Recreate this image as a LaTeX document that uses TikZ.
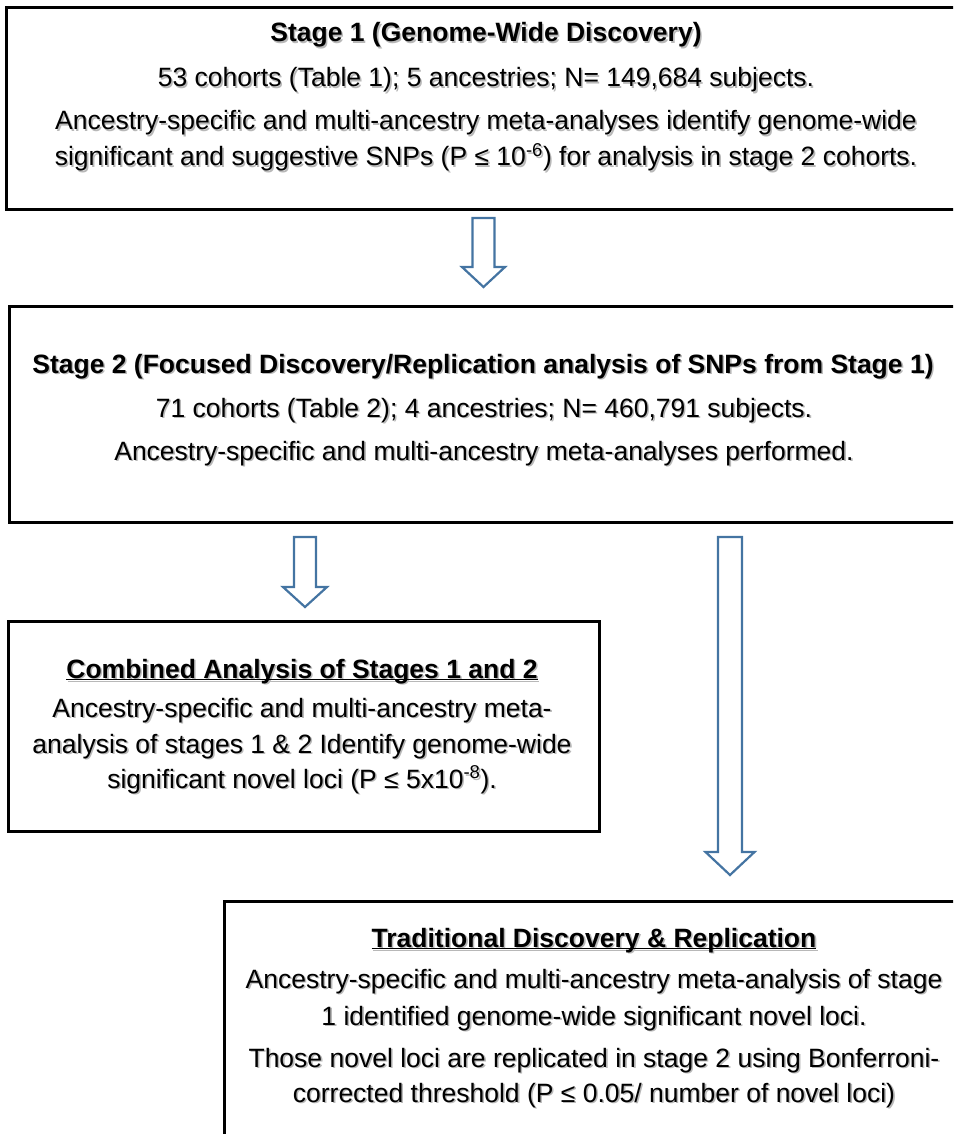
\documentclass[tikz,border=0pt]{standalone}
\usepackage{fontspec}
\setmainfont{Liberation Sans}
\definecolor{arrowblue}{RGB}{68,116,162}
\newcommand\blockarrow[6]{%
  \draw[barrow] (#1-#5,#2) -- (#1+#5,#2) -- (#1+#5,#3) -- (#1+#6,#3) -- (#1,#4) -- (#1-#6,#3) -- (#1-#5,#3) -- cycle;}
\newcommand\tl[4]{%
  \node[shd] at (#2+1.6,#3+1.6) {#4};
  \node[txt] (#1) at (#2,#3) {#4};}
\newcommand\ttl[1]{\textbf{\underline{\smash{#1}}}}
\begin{document}
\begin{tikzpicture}[x=1pt,y=-1pt,
  box/.style={draw=black, line width=3pt, rectangle, inner sep=0pt},
  txt/.style={anchor=base, inner sep=0pt, font=\fontsize{26.5}{32}\selectfont},
  shd/.style={txt, text=black!28},
  barrow/.style={draw=arrowblue, line width=2.2pt, fill=white, line join=miter}]
\useasboundingbox (0,0) rectangle (953,1134);
\clip (0,0) rectangle (953,1134);

% boxes
\node[box, anchor=north west, minimum width=962pt, minimum height=201.5pt] (s1) at (5,6.5) {};
\node[box, anchor=north west, minimum width=960pt, minimum height=216pt] (s2) at (8,305) {};
\node[box, anchor=north west, minimum width=591pt, minimum height=210pt] (comb) at (7,620) {};
\node[box, anchor=north west, minimum width=742pt, minimum height=260pt] (trad) at (223,900) {};

% block arrows
\blockarrow{483.5}{218}{267}{287}{11}{21.5}
\blockarrow{305}{537}{587}{607}{11}{22}
\blockarrow{730}{537}{852}{875}{12}{24.5}

% Stage 1 text
\tl{s1a}{486}{42}{\textbf{Stage 1 (Genome-Wide Discovery)}}
\tl{s1b}{486}{87}{53 cohorts (Table 1); 5 ancestries; N= 149,684 subjects.}
\tl{s1c}{486}{129.5}{Ancestry-specific and multi-ancestry meta-analyses identify genome-wide}
\tl{s1d}{486}{166}{significant and suggestive SNPs (P ≤ 10\textsuperscript{-6}) for analysis in stage 2 cohorts.}

% Stage 2 text
\tl{s2a}{483}{373}{\textbf{Stage 2 (Focused Discovery/Replication analysis of SNPs from Stage 1)}}
\tl{s2b}{484}{417}{71 cohorts (Table 2); 4 ancestries; N= 460,791 subjects.}
\tl{s2c}{484}{460}{Ancestry-specific and multi-ancestry meta-analyses performed.}

% Combined text
\tl{ca}{302}{678}{\ttl{Combined Analysis of Stages 1 and 2}}
\tl{cb}{302}{717}{Ancestry-specific and multi-ancestry meta-}
\tl{cc}{302}{753}{analysis of stages 1 \& 2 Identify genome-wide}
\tl{cd}{302}{788}{significant novel loci (P ≤ 5x10\textsuperscript{-8}).}

% Traditional text
\tl{ta}{594}{947}{\ttl{Traditional Discovery \& Replication}}
\tl{tb}{594}{988}{Ancestry-specific and multi-ancestry meta-analysis of stage}
\tl{tc}{594}{1025}{1 identified genome-wide significant novel loci.}
\tl{td}{594}{1067}{Those novel loci are replicated in stage 2 using Bonferroni-}
\tl{te}{594}{1102}{corrected threshold (P ≤ 0.05/ number of novel loci)}
\end{tikzpicture}
\end{document}
